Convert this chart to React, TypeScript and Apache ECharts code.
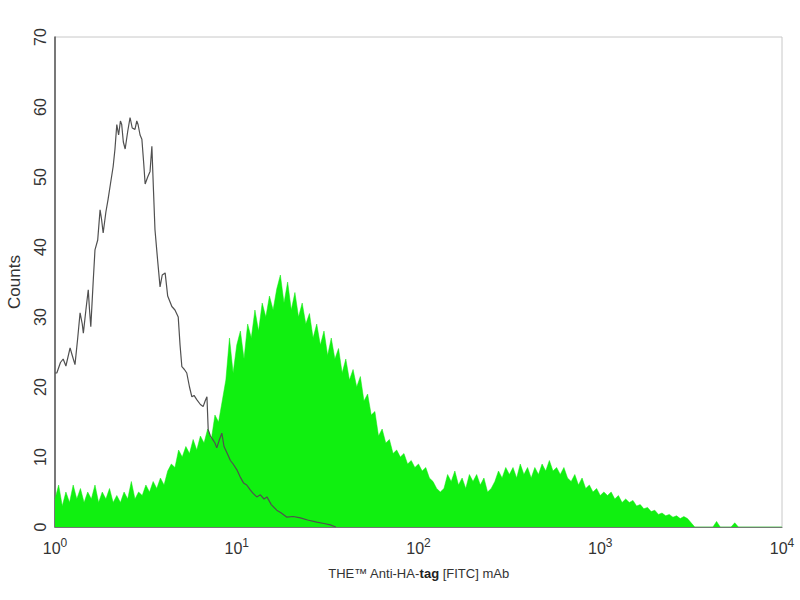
import React, { useEffect, useRef } from "react";
import * as echarts from "echarts";

// x in decades (log10 of fluorescence), y = counts
const yTicks = [0, 10, 20, 30, 40, 50, 60, 70];
const xDecades = [0, 1, 2, 3, 4];

const isotypeControl: [number, number][] = [
  [0.0, 22], [0.01, 22], [0.03, 23.5], [0.045, 24], [0.06, 23], [0.083, 25.6], [0.095, 24.5], [0.11, 23.2],
  [0.125, 27], [0.138, 30.6], [0.15, 29], [0.156, 27.7], [0.17, 31], [0.183, 33.9], [0.19, 31], [0.197, 28.6],
  [0.21, 35], [0.22, 39.6], [0.235, 41], [0.248, 45.3], [0.256, 44], [0.265, 42], [0.28, 45], [0.292, 46.8],
  [0.305, 49], [0.32, 51.5], [0.33, 54], [0.34, 57.5], [0.35, 56], [0.36, 58], [0.367, 57.5], [0.376, 55],
  [0.386, 54], [0.4, 56.5], [0.413, 58.5], [0.425, 57], [0.44, 56.8], [0.45, 58], [0.457, 57.5], [0.468, 56],
  [0.478, 55.4], [0.488, 52], [0.496, 49], [0.51, 50], [0.523, 50.8], [0.533, 54.4], [0.542, 48], [0.55, 42.5],
  [0.565, 38], [0.578, 34.3], [0.59, 36], [0.606, 36.3], [0.62, 33], [0.643, 31.5], [0.66, 31], [0.678, 30],
  [0.688, 26], [0.698, 22.9], [0.712, 22.5], [0.725, 22], [0.74, 20], [0.753, 18.6], [0.765, 18.8], [0.78, 18.2],
  [0.8, 17.5], [0.815, 17.2], [0.826, 18], [0.836, 18.6], [0.843, 13.9], [0.855, 13], [0.87, 12.4], [0.88, 12],
  [0.89, 11.3], [0.905, 12.5], [0.918, 13.4], [0.93, 11.5], [0.946, 10.6], [0.965, 9.5], [0.98, 9], [1.0, 8.2],
  [1.018, 7.2], [1.037, 6.3], [1.055, 6], [1.074, 5.3], [1.09, 4.8], [1.11, 4.3], [1.13, 4.6], [1.15, 4.0],
  [1.166, 4.3], [1.19, 3.2], [1.22, 2.4], [1.245, 2.0], [1.276, 1.4], [1.31, 1.5], [1.35, 1.3], [1.39, 1.0],
  [1.44, 0.7], [1.48, 0.5], [1.515, 0.3], [1.545, 0]
];

const haTagStained: [number, number][] = [
  [0.0, 4], [0.02, 6], [0.04, 3], [0.06, 5], [0.08, 3.5], [0.1, 6], [0.12, 4], [0.14, 5.5], [0.16, 3.5], [0.18, 5],
  [0.2, 4], [0.22, 6], [0.24, 3.5], [0.26, 5], [0.28, 4], [0.3, 5.5], [0.32, 3.5], [0.34, 4.5], [0.36, 3.5], [0.38, 5],
  [0.4, 4], [0.42, 6.5], [0.44, 4], [0.46, 5], [0.48, 4.5], [0.5, 6], [0.52, 5], [0.54, 6.5], [0.56, 5.5], [0.58, 7],
  [0.6, 6], [0.62, 8], [0.64, 9], [0.66, 8.5], [0.68, 11], [0.7, 10], [0.72, 11.5], [0.74, 10.5], [0.76, 12.5], [0.78, 11],
  [0.8, 13], [0.82, 12], [0.84, 14], [0.86, 12.5], [0.88, 16], [0.9, 15], [0.92, 18], [0.94, 21], [0.96, 27], [0.98, 22],
  [1.0, 26], [1.02, 28], [1.04, 24], [1.06, 29], [1.08, 27], [1.1, 31], [1.12, 28], [1.14, 32], [1.16, 30], [1.18, 33],
  [1.2, 31], [1.22, 34], [1.24, 36], [1.26, 32], [1.28, 35], [1.3, 31], [1.32, 33.5], [1.34, 30], [1.36, 32], [1.38, 29],
  [1.4, 30.5], [1.42, 27], [1.44, 29], [1.46, 26], [1.48, 28], [1.5, 24.5], [1.52, 27], [1.54, 24], [1.56, 25.5], [1.58, 22],
  [1.6, 24], [1.62, 21], [1.64, 22.5], [1.66, 20], [1.68, 21.5], [1.7, 18], [1.72, 19], [1.74, 16], [1.76, 16.5], [1.78, 13],
  [1.8, 14], [1.82, 12], [1.84, 12.5], [1.86, 10.5], [1.88, 11], [1.9, 10], [1.92, 10.5], [1.94, 9], [1.96, 9.5], [1.98, 8.5],
  [2.0, 9], [2.02, 8], [2.04, 8.5], [2.06, 7], [2.08, 6.5], [2.1, 5.5], [2.12, 5], [2.14, 5.5], [2.16, 7.5], [2.18, 6.5],
  [2.2, 8], [2.22, 6], [2.24, 7], [2.26, 5.5], [2.28, 7.5], [2.3, 6.5], [2.32, 7.5], [2.34, 6], [2.36, 7], [2.38, 5],
  [2.4, 5.5], [2.42, 6.5], [2.44, 8], [2.46, 7], [2.48, 8.5], [2.5, 7.5], [2.52, 8.5], [2.54, 7], [2.56, 9], [2.58, 7.5],
  [2.6, 8.5], [2.62, 7], [2.64, 8.5], [2.66, 7.5], [2.68, 9], [2.7, 8], [2.72, 9.5], [2.74, 8], [2.76, 8.5], [2.78, 7.5],
  [2.8, 8.5], [2.82, 7], [2.84, 6.5], [2.86, 7.5], [2.88, 6], [2.9, 7], [2.92, 5.5], [2.94, 6], [2.96, 5], [2.98, 5.5],
  [3.0, 4.5], [3.02, 5], [3.04, 4.5], [3.06, 5], [3.08, 4], [3.1, 4.5], [3.12, 3.5], [3.14, 4], [3.16, 3.5], [3.18, 3.8],
  [3.2, 3], [3.22, 3.2], [3.24, 2.6], [3.26, 2.8], [3.28, 2.2], [3.3, 2.4], [3.32, 1.8], [3.34, 2], [3.36, 1.6], [3.38, 1.8],
  [3.4, 1.4], [3.42, 1.6], [3.44, 1.2], [3.46, 1.5], [3.48, 1.2], [3.5, 0.6], [3.52, 0], [3.62, 0], [3.64, 0.8], [3.66, 0],
  [3.72, 0], [3.74, 0.6], [3.76, 0], [4.0, 0]
];

export default function App() {
  const ref = useRef<HTMLDivElement>(null);
  useEffect(() => {
    if (!ref.current) return;
    const chart = echarts.init(ref.current, undefined, { renderer: "svg" });
    const font = "Liberation Sans, Arial, sans-serif";
    chart.setOption({
      animation: false,
      backgroundColor: "#ffffff",
      grid: {
        left: 55,
        right: 18,
        top: 37,
        bottom: 73,
        containLabel: false,
        outerBoundsMode: "none",
        show: true,
        borderColor: "#c8c8c8",
        borderWidth: 1,
      },
      xAxis: {
        type: "value",
        min: 0,
        max: 4,
        interval: 1,
        data: xDecades,
        name: "{n|THE™ Anti-HA-}{b|tag}{n| [FITC] mAb}",
        nameLocation: "middle",
        nameGap: 40,
        nameTextStyle: {
          rich: {
            n: { fontSize: 13, color: "#333", fontFamily: font },
            b: { fontSize: 13, color: "#222", fontWeight: "bold", fontFamily: font },
          },
        },
        axisLine: { show: true, lineStyle: { color: "#777", width: 1.2 } },
        axisTick: { show: false },
        splitLine: { show: false },
        axisLabel: {
          margin: 10,
          formatter: (v: number) => `{b|10}{s|${v}}`,
          rich: {
            b: { fontSize: 16, color: "#333", fontFamily: font },
            s: { fontSize: 12, color: "#333", padding: [0, 0, 10, 0], fontFamily: font },
          },
        },
      },
      yAxis: {
        type: "value",
        min: 0,
        max: 70,
        interval: 10,
        data: yTicks,
        name: "Counts",
        nameLocation: "middle",
        nameGap: 32,
        nameRotate: 90,
        nameTextStyle: { fontSize: 17, color: "#333", fontFamily: font },
        axisLine: { show: true, lineStyle: { color: "#555", width: 1.5 } },
        axisTick: { show: false },
        splitLine: { show: false },
        axisLabel: {
          rotate: 90,
          margin: 7,
          fontSize: 16,
          color: "#333",
          fontFamily: font,
        },
      },
      series: [
        {
          name: "HA-tag",
          type: "line",
          data: haTagStained,
          symbol: "none",
          lineStyle: { width: 0.5, color: "#10e810" },
          areaStyle: { color: "#10f010", opacity: 1 },
          z: 1,
        },
        {
          name: "Isotype",
          type: "line",
          data: isotypeControl,
          symbol: "none",
          lineStyle: { width: 1.2, color: "#505050" },
          z: 2,
        },
      ],
    });
    return () => chart.dispose();
  }, []);
  return <div ref={ref} style={{ position: "absolute", left: 0, top: 0, width: 800, height: 600 }} />;
}
